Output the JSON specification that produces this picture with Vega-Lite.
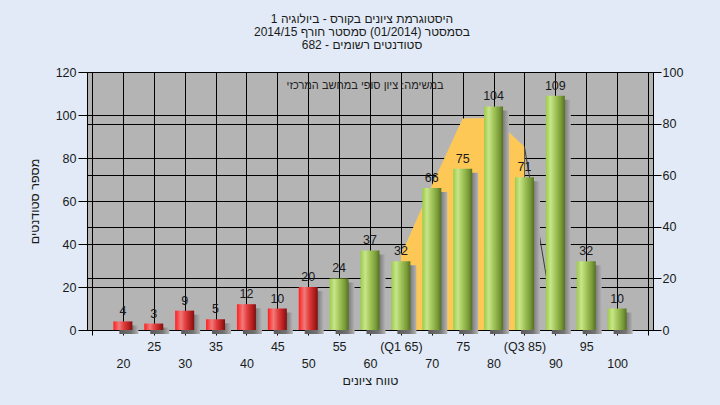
{
  "$schema": "https://vega.github.io/schema/vega-lite/v6.json",
  "width": 566,
  "height": 258,
  "autosize": {"type": "none"},
  "padding": {"left": 87, "top": 72, "right": 67, "bottom": 75},
  "background": "#e1eaf6",
  "config": {
    "font": "Liberation Sans",
    "view": {"fill": "#b4b4b4", "stroke": null},
    "axis": {
      "labelFont": "Liberation Sans",
      "labelFontSize": 12.5,
      "labelColor": "#1a1a1a",
      "titleFont": "Liberation Sans",
      "titleFontSize": 12.5,
      "titleFontWeight": "normal",
      "titleColor": "#1a1a1a",
      "domainColor": "#000000",
      "tickColor": "#000000",
      "gridColor": "#000000",
      "gridOpacity": 1,
      "gridWidth": 1,
      "domainWidth": 1,
      "tickWidth": 1,
      "labelOverlap": false
    },
    "axisX": {"labelOverlap": false, "labelFlush": false, "labelSeparation": -200}
  },
  "title": {
    "text": ["היסטוגרמת ציונים בקורס - ביולוגיה 1", "בסמסטר  (01/2014)  סמסטר חורף 2014/15", "סטודנטים רשומים - 682"],
    "font": "Liberation Sans",
    "fontSize": 12,
    "fontWeight": "normal",
    "color": "#1a1a1a",
    "anchor": "middle",
    "align": "center",
    "frame": "group",
    "offset": 14,
    "lineHeight": 13,
    "dx": -8
  },
  "datasets": {
    "hist": [
      {"score": 20, "count": 4},
      {"score": 25, "count": 3},
      {"score": 30, "count": 9},
      {"score": 35, "count": 5},
      {"score": 40, "count": 12},
      {"score": 45, "count": 10},
      {"score": 50, "count": 20},
      {"score": 55, "count": 24},
      {"score": 60, "count": 37},
      {"score": 65, "count": 32},
      {"score": 70, "count": 66},
      {"score": 75, "count": 75},
      {"score": 80, "count": 104},
      {"score": 85, "count": 71},
      {"score": 90, "count": 109},
      {"score": 95, "count": 32},
      {"score": 100, "count": 10}
    ],
    "dist": [
      {"score": 65, "v": 29},
      {"score": 70, "v": 56},
      {"score": 75, "v": 82},
      {"score": 80, "v": 82.3},
      {"score": 85, "v": 71}
    ],
    "tail": [
      {"score": 85, "v": 71},
      {"score": 90, "v": 0}
    ],
    "note": [
      {"score": 59.2, "count": 113.7, "note": "במשימה: ציון סופי במחשב המרכזי"}
    ]
  },
  "layer": [
    {
      "layer": [
        {
          "data": {"name": "dist"},
          "mark": {"type": "area", "color": "#fec857", "opacity": 1},
          "encoding": {
            "x": {
              "field": "score",
              "type": "quantitative",
              "scale": {"domain": [15, 105], "nice": false, "zero": false},
              "axis": {
                "values": [15, 20, 25, 30, 35, 40, 45, 50, 55, 60, 65, 70, 75, 80, 85, 90, 95, 100, 105],
                "tickCount": 60,
                "grid": true,
                "tickSize": 5,
                "labelPadding": 5,
                "labelBaseline": "top",
                "labelLineHeight": 17,
                "labelOverlap": false,
                "labelSeparation": -200,
                "labelFlush": false,
                "labelExpr": "datum.value < 20 || datum.value > 100 ? '' : datum.value % 10 == 5 ? (datum.value == 65 ? ['(Q1 65)'] : datum.value == 85 ? ['(Q3 85)'] : [datum.label]) : ['', datum.label]",
                "title": "טווח ציונים",
                "titlePadding": 5
              }
            },
            "y": {
              "field": "v",
              "type": "quantitative",
              "scale": {"domain": [0, 100], "nice": false},
              "axis": {
                "orient": "right",
                "values": [0, 20, 40, 60, 80, 100],
                "tickCount": 20,
                "grid": true,
                "title": null,
                "tickSize": 8,
                "labelPadding": 1
              }
            }
          }
        },
        {
          "data": {"name": "tail"},
          "mark": {"type": "line", "color": "#3a3a3a", "strokeWidth": 1},
          "encoding": {
            "x": {"field": "score", "type": "quantitative"},
            "y": {"field": "v", "type": "quantitative"}
          }
        }
      ]
    },
    {
      "layer": [
        {
          "data": {"name": "hist"},
          "mark": {
            "type": "bar",
            "width": 19,
            "color": {
              "gradient": "linear", "x1": 0, "x2": 1, "y1": 0, "y2": 0,
              "stops": [
                {"offset": 0, "color": "#5a5a5a"},
                {"offset": 0.62, "color": "#727272"},
                {"offset": 1, "color": "#b4b4b4"}
              ]
            }
          },
          "encoding": {
            "x": {
              "field": "score",
              "type": "quantitative",
              "axis": {
                "values": [15, 20, 25, 30, 35, 40, 45, 50, 55, 60, 65, 70, 75, 80, 85, 90, 95, 100, 105],
                "tickCount": 60,
                "grid": true,
                "tickSize": 5,
                "labelPadding": 5,
                "labelBaseline": "top",
                "labelLineHeight": 17,
                "labelOverlap": false,
                "labelSeparation": -200,
                "labelFlush": false,
                "labelExpr": "datum.value < 20 || datum.value > 100 ? '' : datum.value % 10 == 5 ? (datum.value == 65 ? ['(Q1 65)'] : datum.value == 85 ? ['(Q3 85)'] : [datum.label]) : ['', datum.label]",
                "title": "טווח ציונים",
                "titlePadding": 5
              }
            },
            "y": {
              "field": "count",
              "type": "quantitative",
              "scale": {"domain": [0, 120], "nice": false},
              "axis": {
                "orient": "left",
                "values": [0, 20, 40, 60, 80, 100, 120],
                "tickCount": 20,
                "grid": true,
                "title": "מספר סטודנטים",
                "tickSize": 9,
                "labelPadding": 2,
                "titlePadding": 14
              }
            },
            "xOffset": {"value": 6},
            "yOffset": {"value": 4}
          }
        },
        {
          "data": {"name": "hist"},
          "transform": [{"filter": "datum.score <= 50"}],
          "mark": {
            "type": "bar",
            "width": 19,
            "color": {
              "gradient": "linear", "x1": 0, "x2": 1, "y1": 0, "y2": 0,
              "stops": [
                {"offset": 0, "color": "#ff1e1e"},
                {"offset": 0.3, "color": "#f07a7a"},
                {"offset": 0.55, "color": "#e23c3c"},
                {"offset": 0.8, "color": "#b52020"},
                {"offset": 1, "color": "#7d1010"}
              ]
            }
          },
          "encoding": {
            "x": {"field": "score", "type": "quantitative"},
            "y": {"field": "count", "type": "quantitative"}
          }
        },
        {
          "data": {"name": "hist"},
          "transform": [{"filter": "datum.score > 50"}],
          "mark": {
            "type": "bar",
            "width": 19,
            "color": {
              "gradient": "linear", "x1": 0, "x2": 1, "y1": 0, "y2": 0,
              "stops": [
                {"offset": 0, "color": "#9ccc48"},
                {"offset": 0.25, "color": "#c8e58a"},
                {"offset": 0.5, "color": "#a3c65a"},
                {"offset": 0.8, "color": "#7a9c3a"},
                {"offset": 1, "color": "#56711f"}
              ]
            }
          },
          "encoding": {
            "x": {"field": "score", "type": "quantitative"},
            "y": {"field": "count", "type": "quantitative"}
          }
        },
        {
          "data": {"name": "hist"},
          "mark": {"type": "text", "baseline": "bottom", "dy": -3, "fontSize": 12.5, "color": "#1a1a1a"},
          "encoding": {
            "x": {"field": "score", "type": "quantitative"},
            "y": {"field": "count", "type": "quantitative"},
            "text": {"field": "count", "type": "quantitative"}
          }
        },
        {
          "data": {"name": "note"},
          "mark": {"type": "text", "fontSize": 11, "color": "#222222", "baseline": "middle", "align": "center"},
          "encoding": {
            "x": {"field": "score", "type": "quantitative"},
            "y": {"field": "count", "type": "quantitative"},
            "text": {"field": "note", "type": "nominal"}
          }
        }
      ]
    }
  ],
  "resolve": {"scale": {"y": "independent"}}
}
